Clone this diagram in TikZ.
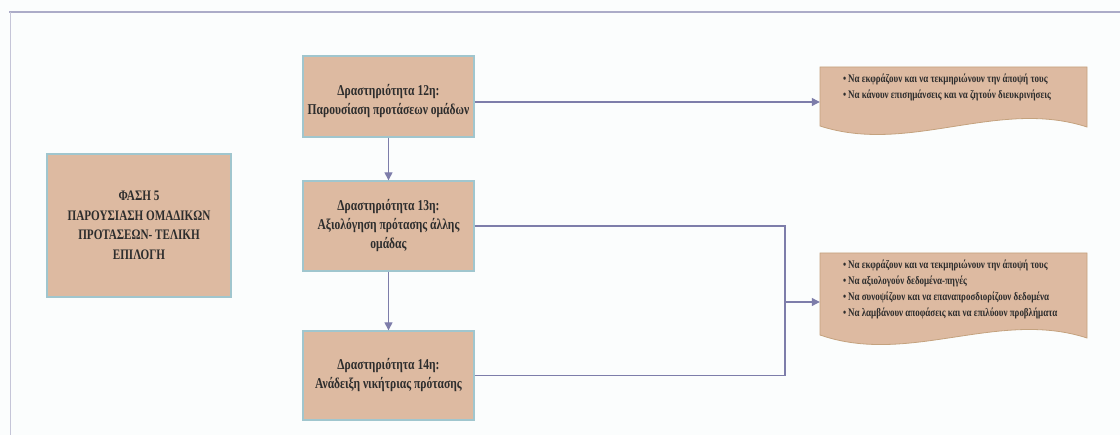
\documentclass[tikz,border=0pt]{standalone}
\usepackage{fontspec}
\setmainfont{Liberation Serif}
\newfontfamily\stagefont[FakeStretch=0.77]{Liberation Serif}
\newfontfamily\phasefont[FakeStretch=0.77]{Liberation Serif}
\newfontfamily\listfont[FakeStretch=0.78]{Liberation Serif}
\usetikzlibrary{arrows.meta,calc}

\definecolor{boxfill}{RGB}{221,186,161}
\definecolor{boxedge}{RGB}{160,198,206}
\definecolor{wire}{RGB}{125,125,170}
\definecolor{frameline}{RGB}{172,172,200}
\definecolor{docedge}{RGB}{196,162,126}
\definecolor{ink}{RGB}{45,45,45}
\definecolor{paper}{RGB}{251,253,253}

\begin{document}
\begin{tikzpicture}[x=1pt,y=-1pt,
  stage/.style={draw=boxedge, line width=1.3pt, fill=boxfill,
    minimum width=171pt, align=center, inner sep=0pt,
    font=\stagefont\fontsize{15}{19}\selectfont\bfseries, text=ink},
  stagetext/.style={align=center, inner sep=0pt,
    font=\stagefont\fontsize{15}{19}\selectfont\bfseries, text=ink},
  phase/.style={stage, minimum width=184pt, minimum height=143pt,
    font=\phasefont\fontsize{14.5}{19.5}\selectfont\bfseries},
  docarea/.style={minimum width=267pt, inner sep=0pt, draw=none},
  docshape/.style={fill=boxfill, draw=docedge, line width=0.8pt},
  bullets/.style={anchor=north west, inner sep=0pt, align=left,
    font=\listfont\fontsize{11.5}{16}\selectfont\bfseries, text=ink},
  wire/.style={draw=wire, line width=1.1pt},
  flow/.style={wire, -{Triangle[length=8pt,width=8pt]}},
]
% page and frame
\fill[paper] (0,0) rectangle (1120,435);
\useasboundingbox (0,0) rectangle (1120,435);
\draw[frameline, line width=2pt] (9,12) -- (1120,12);
\draw[frameline!70, line width=1pt] (10,12) -- (10,435);

% phase title
\node[phase] (phase) at (139,225.5)
  {ΦΑΣΗ 5\\ΠΑΡΟΥΣΙΑΣΗ ΟΜΑΔΙΚΩΝ\\ΠΡΟΤΑΣΕΩΝ- ΤΕΛΙΚΗ\\ΕΠΙΛΟΓΗ};

% activities (the first one carries its text a little below centre)
\node[stage, minimum height=81pt] (act12) at (388.5,96.5) {};
\node[stagetext] (act12text) at ($(act12.center)+(0,5)$)
  {Δραστηριότητα 12η:\\Παρουσίαση προτάσεων ομάδων};
\node[stage, minimum height=90pt] (act13) at (388.5,226)
  {Δραστηριότητα 13η:\\Αξιολόγηση πρότασης άλλης\\ομάδας};
\node[stage, minimum height=89pt] (act14) at (388.5,375.5)
  {Δραστηριότητα 14η:\\Ανάδειξη νικήτριας πρότασης};

% document shapes with wavy bottoms
\fill[docshape] (820,67) -- (1087,67) -- (1087,127)
  .. controls (998,98) and (909,155) .. (820,126) -- cycle;
\fill[docshape] (820,253) -- (1087,253) -- (1087,338)
  .. controls (998,309) and (909,366) .. (820,335) -- cycle;
\node[docarea, minimum height=70pt] (docA) at (953.5,102) {};
\node[docarea, minimum height=98pt] (docB) at (953.5,302) {};

\node[bullets] (docAtext) at ($(docA.north west)+(23,7)$)
  {•\,Να εκφράζουν και να τεκμηριώνουν την άποψή τους\\
   •\,Να κάνουν επισημάνσεις και να ζητούν διευκρινήσεις};
\node[bullets] (docBtext) at ($(docB.north west)+(23,7)$)
  {•\,Να εκφράζουν και να τεκμηριώνουν την άποψή τους\\
   •\,Να αξιολογούν δεδομένα-πηγές\\
   •\,Να συνοψίζουν και να επαναπροσδιορίζουν δεδομένα\\
   •\,Να λαμβάνουν αποφάσεις και να επιλύουν προβλήματα};

% connectors
\draw[flow] (act12) -- (act13);
\draw[flow] (act13) -- (act14);
\draw[flow] (act12.east |- docA.west) -- (docA.west);
\coordinate (join) at (docB.west -| 785,0);
\draw[wire] (act13.east) -| (join);
\draw[wire] (act14.east) -| (join);
\draw[flow] (join) -- (docB.west);
\end{tikzpicture}
\end{document}
